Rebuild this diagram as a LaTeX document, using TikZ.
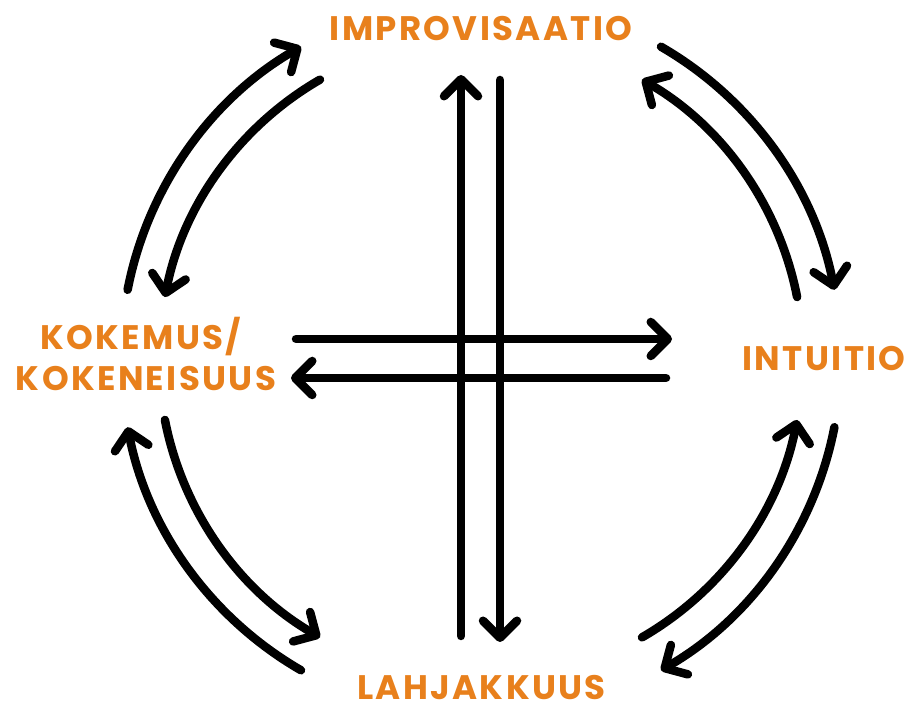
\documentclass[tikz,border=0pt]{standalone}
\usepackage{fontspec}
\setmainfont{Poppins}
\newfontfamily\labfont{Poppins}[LetterSpace=7]
\usetikzlibrary{arrows.meta}
\definecolor{labcol}{RGB}{232,128,28}
\tikzset{
  arr/.style={line width=8.5pt, line cap=round, -{Straight Barb[length=17pt,width=34pt,round]}},
  lab/.style={text=labcol, font=\labfont\bfseries\fontsize{34}{36}\selectfont, inner sep=0pt, anchor=base, text depth=0pt}
}
\begin{document}
\begin{tikzpicture}[x=1pt,y=1pt]
\useasboundingbox (0,0) rectangle (910,704);
\coordinate (c) at (481,345.5);
% labels
\node[lab] (imp) at (481,663) {IMPROVISAATIO};
\node[lab] (kok1) at (141,354) {KOKEMUS/};
\node[lab] (kok2) at (146,313) {KOKENEISUUS};
\node[lab] (int) at (824,333) {INTUITIO};
\node[lab] (lah) at (481.5,5) {LAHJAKKUUS};
% straight arrows
\coordinate (vlb) at (461,68);
\coordinate (vlt) at (461,629);
\coordinate (vrt) at (500,624);
\coordinate (vrb) at (500,62);
\coordinate (hul) at (296,365);
\coordinate (hur) at (672,365);
\coordinate (hlr) at (666,326);
\coordinate (hll) at (291,326);
\draw[arr] (vlb) -- (vlt);
\draw[arr] (vrt) -- (vrb);
\draw[arr] (hul) -- (hur);
\draw[arr] (hlr) -- (hll);
% curved arrows
\begin{scope}[shift={(c)}]
\draw[arr] (169:360) arc[start angle=169,end angle=120,radius=360];
\draw[arr] (120:322) arc[start angle=120,end angle=169,radius=322];
\draw[arr] (60:360) arc[start angle=60,end angle=11,radius=360];
\draw[arr] (11:322) arc[start angle=11,end angle=60,radius=322];
\draw[arr] (240:360) arc[start angle=240,end angle=191,radius=360];
\draw[arr] (191:322) arc[start angle=191,end angle=240,radius=322];
\draw[arr] (-11:360) arc[start angle=-11,end angle=-60,radius=360];
\draw[arr] (-60:322) arc[start angle=-60,end angle=-11,radius=322];
\end{scope}
\end{tikzpicture}
\end{document}
